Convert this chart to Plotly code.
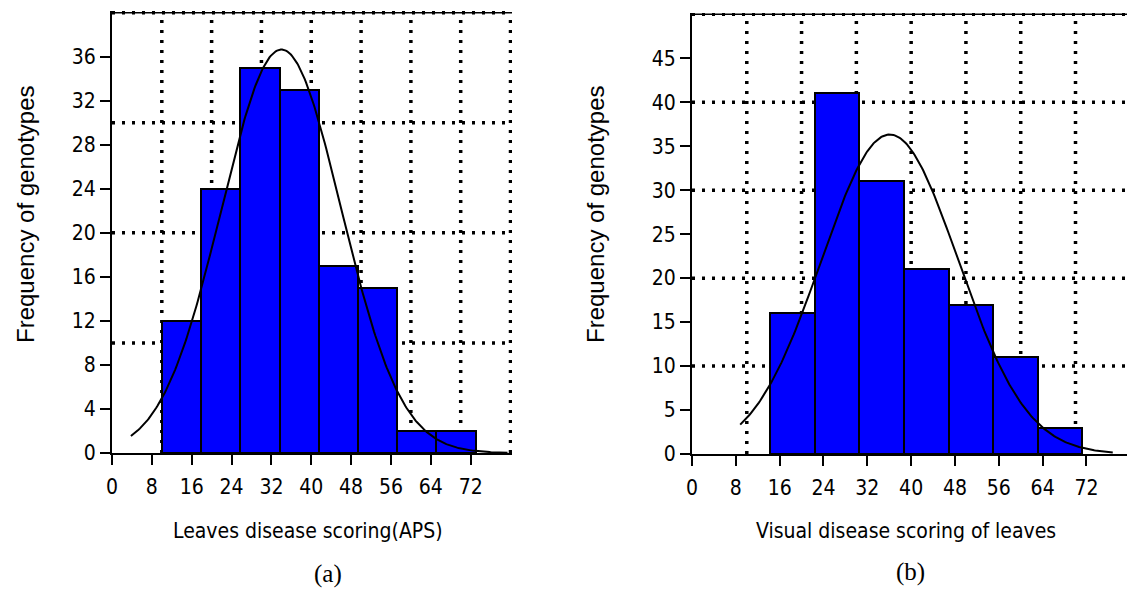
import numpy as np
import plotly.graph_objects as go

# ---------------- data ----------------
# Panel (a): Leaves disease scoring (APS)
a_bin_start = 10.0
a_bin_width = 7.875
a_counts = [12, 24, 35, 33, 17, 15, 2, 2]
a_fit_mean = 34.0
a_fit_sd = 12.0
a_curve_from, a_curve_to = 3.8, 79.4

# Panel (b): Visual disease scoring of leaves
b_bin_start = 14.3
b_bin_width = 8.13
b_counts = [16, 41, 31, 21, 17, 11, 3]
b_fit_mean = 36.1
b_fit_sd = 12.5
b_curve_from, b_curve_to = 8.8, 76.8

x_ticks = [0, 8, 16, 24, 32, 40, 48, 56, 64, 72]
a_y_ticks = [0, 4, 8, 12, 16, 20, 24, 28, 32, 36]
b_y_ticks = [0, 5, 10, 15, 20, 25, 30, 35, 40, 45]
grid_x = [10, 20, 30, 40, 50, 60, 70, 80]
a_grid_y = [10, 20, 30, 40]
b_grid_y = [10, 20, 30, 40, 50]

a_xtitle = "Leaves disease scoring(APS)"
b_xtitle = "Visual disease scoring of leaves"
ytitle = "Frequency of genotypes"

W, H = 1127, 590
NARROW = "DejaVu Sans Condensed"
SANS = "Liberation Sans"
SERIF = "Liberation Serif"


def hist_trace(start, width, counts, xa, ya):
    n = len(counts)
    centers = [start + width * (i + 0.5) for i in range(n)]
    return go.Bar(x=centers, y=counts, width=[width] * n,
                  marker=dict(color="#0000FF", line=dict(color="black", width=2)),
                  xaxis=xa, yaxis=ya, showlegend=False, hoverinfo="x+y")


def curve_trace(start, width, counts, mean, sd, x0, x1, xa, ya):
    xs = np.linspace(x0, x1, 300)
    total = sum(counts)
    ys = total * width / (sd * np.sqrt(2 * np.pi)) * np.exp(-0.5 * ((xs - mean) / sd) ** 2)
    return go.Scatter(x=xs, y=ys, mode="lines", line=dict(color="black", width=2),
                      xaxis=xa, yaxis=ya, showlegend=False, hoverinfo="skip")


fig = go.Figure()
fig.add_trace(hist_trace(a_bin_start, a_bin_width, a_counts, "x", "y"))
fig.add_trace(curve_trace(a_bin_start, a_bin_width, a_counts, a_fit_mean, a_fit_sd,
                          a_curve_from, a_curve_to, "x", "y"))
fig.add_trace(hist_trace(b_bin_start, b_bin_width, b_counts, "x2", "y2"))
fig.add_trace(curve_trace(b_bin_start, b_bin_width, b_counts, b_fit_mean, b_fit_sd,
                          b_curve_from, b_curve_to, "x2", "y2"))

a_xrange = [0, 80.3]
a_yrange = [0, 40.15]
b_xrange = [0, 79.4]
b_yrange = [0, 50.15]

shapes = []
dot = dict(color="black", width=3.5, dash="3px,7px")
for xr, yr, gx_max, gy, xref, yref in [(a_xrange, a_yrange, 80, a_grid_y, "x", "y"),
                                       (b_xrange, b_yrange, 70, b_grid_y, "x2", "y2")]:
    top = gy[-1]
    # thin solid top border
    shapes.append(dict(type="line", xref=xref, yref=yref, x0=xr[0], x1=xr[1],
                       y0=top, y1=top, line=dict(color="black", width=1.5),
                       layer="below"))
    for v in grid_x:
        if v <= gx_max:
            shapes.append(dict(type="line", xref=xref, yref=yref, x0=v, x1=v,
                               y0=yr[0], y1=top, line=dot, layer="below"))
    for v in gy:
        shapes.append(dict(type="line", xref=xref, yref=yref, x0=xr[0], x1=xr[1],
                           y0=v, y1=v, line=dot, layer="below"))

axis_common = dict(showline=True, linecolor="black", linewidth=2, ticks="outside",
                   ticklen=10, tickwidth=2, tickcolor="black", showgrid=False,
                   zeroline=False, automargin=False,
                   tickfont=dict(family=NARROW, size=21, color="black"))

fig.update_layout(
    width=W, height=H,
    margin=dict(l=0, r=0, t=0, b=0),
    paper_bgcolor="white", plot_bgcolor="white",
    bargap=0,
    shapes=shapes,
    xaxis=dict(domain=[112 / W, 512 / W], range=a_xrange, tickmode="array",
               tickvals=x_ticks, anchor="y", ticklabelstandoff=4, **axis_common),
    yaxis=dict(domain=[(H - 453) / H, (H - 11) / H], range=a_yrange, tickmode="array",
               tickvals=a_y_ticks, anchor="x", **axis_common),
    xaxis2=dict(domain=[692 / W, 1.0], range=b_xrange, tickmode="array",
                tickvals=x_ticks, anchor="y2", ticklabelstandoff=4, **axis_common),
    yaxis2=dict(domain=[(H - 454) / H, (H - 13) / H], range=b_yrange, tickmode="array",
                tickvals=b_y_ticks, anchor="x2", **axis_common),
)

ann = []
ann.append(dict(text=a_xtitle, x=308 / W, y=1 - 531 / H, xref="paper", yref="paper",
                xanchor="center", yanchor="middle", showarrow=False,
                font=dict(family=NARROW, size=21, color="black")))
ann.append(dict(text=b_xtitle, x=906 / W, y=1 - 531 / H, xref="paper", yref="paper",
                xanchor="center", yanchor="middle", showarrow=False,
                font=dict(family=NARROW, size=21, color="black")))
ann.append(dict(text="(a)", x=328 / W, y=1 - 574 / H, xref="paper", yref="paper",
                xanchor="center", yanchor="middle", showarrow=False,
                font=dict(family=SERIF, size=25, color="black")))
ann.append(dict(text="(b)", x=910 / W, y=1 - 572 / H, xref="paper", yref="paper",
                xanchor="center", yanchor="middle", showarrow=False,
                font=dict(family=SERIF, size=25, color="black")))
for xc in [25, 595]:
    ann.append(dict(text=ytitle, x=xc / W, y=1 - 214 / H, xref="paper", yref="paper",
                    xanchor="center", yanchor="middle", showarrow=False, textangle=-90,
                    font=dict(family=SANS, size=24, color="black")))
fig.update_layout(annotations=ann)

fig.write_html("out.html")
